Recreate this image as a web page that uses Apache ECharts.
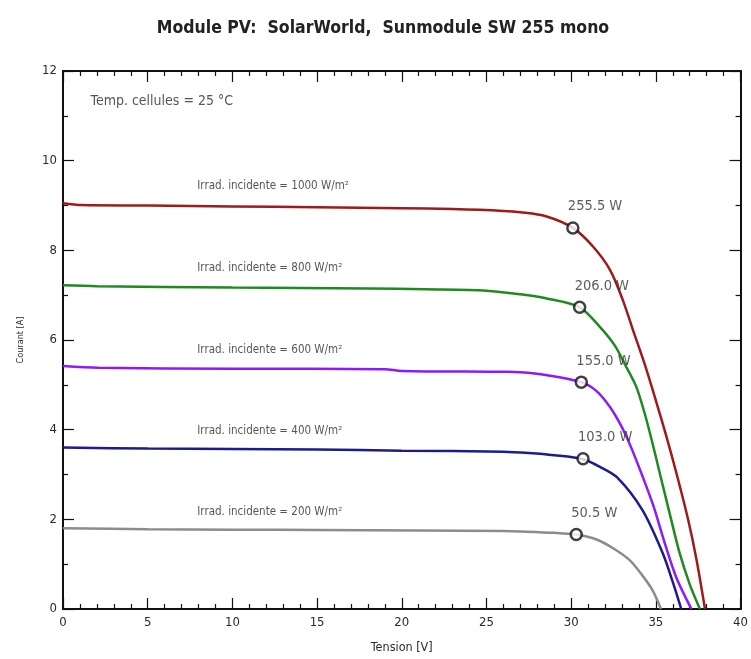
<!DOCTYPE html>
<html><head><meta charset="utf-8">
<script src="https://cdn.jsdelivr.net/npm/echarts@6/dist/echarts.min.js"></script>
<style>html,body{margin:0;padding:0;background:#fff}#c{width:751px;height:659px}</style>
</head><body><div id="c"></div>
<script>
var FONT = '"Liberation Sans Narrow","Arial Narrow","DejaVu Sans Condensed",sans-serif';
var xTicks = [0,5,10,15,20,25,30,35,40];
var yTicks = [0,2,4,6,8,10,12];
var irradiances = [1000, 800, 600, 400, 200];
var curve1000 = [[0,9.05],[1.1,9.01],[5,9.0],[10,8.98],[15,8.96],[20,8.94],[23,8.92],[26,8.88],[27,8.85],[28.5,8.76],[30.1,8.5],[31.3,8.08],[32.3,7.56],[33.05,6.89],[33.65,6.22],[34.35,5.45],[35.0,4.65],[35.6,3.88],[36.2,3.05],[36.9,2.0],[37.4,1.1],[37.9,0]];
var curve800 = [[0,7.22],[2,7.2],[10,7.17],[18,7.15],[21.4,7.13],[25,7.1],[27,7.02],[28.5,6.93],[30.5,6.73],[31.68,6.30],[32.57,5.88],[33.25,5.40],[33.84,4.96],[34.35,4.35],[34.8,3.7],[35.25,3.0],[35.9,2.0],[36.4,1.25],[37.0,0.55],[37.6,0]];
var curve600 = [[0,5.42],[2.1,5.38],[10,5.36],[19,5.35],[20,5.31],[26,5.29],[27,5.28],[28.5,5.22],[30.6,5.06],[31.5,4.86],[32.3,4.5],[33.0,4.05],[33.6,3.55],[34.8,2.36],[35.5,1.5],[36.2,0.71],[37.1,0]];
var curve400 = [[0,3.60],[5,3.58],[15,3.56],[20,3.53],[26,3.51],[27.5,3.48],[29,3.43],[30.7,3.34],[31.7,3.17],[32.7,2.94],[34.2,2.21],[35.4,1.25],[36.0,0.6],[36.5,0]];
var curve200 = [[0,1.80],[5,1.78],[10,1.77],[15,1.76],[21,1.75],[26,1.74],[27,1.73],[29,1.70],[30.3,1.66],[31.5,1.55],[32.5,1.35],[33.45,1.09],[34.2,0.75],[34.8,0.42],[35.3,0]];
var mppV = [30.1, 30.5, 30.6, 30.7, 30.3];
var mppI = [8.5, 6.73, 5.06, 3.35, 1.66];
var mppLabels = ['255.5 W','206.0 W','155.0 W','103.0 W','50.5 W'];
var irradLabelV = 7.9;
var irradLabelI = [9.44, 7.61, 5.78, 3.97, 2.16];
var curves = [curve1000, curve800, curve600, curve400, curve200];
var colors = ['#9e1b1b','#1f8a1f','#8c1aff','#1c1c8c','#8c8c8c'];

var series = [];
curves.forEach(function(c, k){
  series.push({type:'line', data:c, showSymbol:false, symbol:'none', smooth:0.3,
    lineStyle:{color:colors[k], width:2.5}, z:2, animation:false});
});
series.push({type:'scatter', data: mppV.map(function(v,k){return [v, mppI[k], mppLabels[k]];}),
  symbol:'circle', symbolSize:11, itemStyle:{color:'#fff', borderColor:'#111', borderWidth:2.5}, z:5, animation:false,
  label:{show:true, position:'top', align:'left', distance:4, offset:[-5,-3], formatter:function(p){return p.data[2];},
    fontFamily:FONT, fontSize:14.5, color:'#333'}});
series.push({type:'scatter', data: irradiances.map(function(g,k){return [irradLabelV, irradLabelI[k], 'Irrad. incidente = '+g+' W/m\u00b2'];}),
  symbol:'circle', symbolSize:1, itemStyle:{color:'rgba(0,0,0,0)'}, z:4, animation:false, silent:true,
  label:{show:true, position:'right', distance:0, formatter:function(p){return p.data[2];},
    fontFamily:FONT, fontSize:11.5, color:'#2a2a2a'}});
series.push({type:'scatter', data:[[1.6, 11.32, 'Temp. cellules = 25 \u00b0C']], symbol:'circle', symbolSize:1, itemStyle:{color:'rgba(0,0,0,0)'}, animation:false, silent:true,
  label:{show:true, position:'right', distance:0, formatter:function(p){return p.data[2];}, fontFamily:FONT, fontSize:14, color:'#2a2a2a'}});

var axisCommon = {
  min: 0, splitLine:{show:false},
  axisLine:{show:true, onZero:false, lineStyle:{color:'#111', width:2}},
  axisTick:{show:true, inside:true, length:11, lineStyle:{color:'#111', width:1.2}},
  minorSplitLine:{show:false}
};
function ax(extra){ return Object.assign(JSON.parse(JSON.stringify(axisCommon)), extra); }

var chart = echarts.init(document.getElementById('c'), null, {renderer:'canvas'});
chart.setOption({
  animation:false,
  title:{text:'Module PV:  SolarWorld,  Sunmodule SW 255 mono', left: 378, textAlign:'center', top:14,
    textStyle:{fontFamily:FONT, fontSize:17.5, fontWeight:'bold', color:'#222'}},
  grid:{left:63, right:10, top:71, bottom:50, containLabel:false},
  xAxis:[
    ax({type:'value', position:'bottom', max:40, interval:5, minorTick:{show:true, splitNumber:5, length:5, lineStyle:{color:'#111', width:1.2}},
      axisLabel:{fontFamily:FONT, fontSize:13, color:'#2a2a2a', margin:7, formatter:function(v){return xTicks.indexOf(v)>=0?String(v):'';}},
      name:'Tension [V]', nameLocation:'middle', nameGap:32, nameTextStyle:{fontFamily:FONT, fontSize:12.5, color:'#2a2a2a'}}),
    ax({type:'value', position:'top', max:40, interval:5, minorTick:{show:true, splitNumber:5, length:5, lineStyle:{color:'#111', width:1.2}}, axisLabel:{show:false}})
  ],
  yAxis:[
    ax({type:'value', position:'left', max:12, interval:2, minorTick:{show:true, splitNumber:2, length:5, lineStyle:{color:'#111', width:1.2}},
      axisLabel:{fontFamily:FONT, fontSize:13, color:'#2a2a2a', margin:6, formatter:function(v){return yTicks.indexOf(v)>=0?String(v):'';}},
      name:'Courant [A]', nameLocation:'middle', nameRotate:90, nameGap:38, nameTextStyle:{fontFamily:FONT, fontSize:9, color:'#2a2a2a'}}),
    ax({type:'value', position:'right', max:12, interval:2, minorTick:{show:true, splitNumber:2, length:5, lineStyle:{color:'#111', width:1.2}}, axisLabel:{show:false}})
  ],
  series: series
});
</script></body></html>
